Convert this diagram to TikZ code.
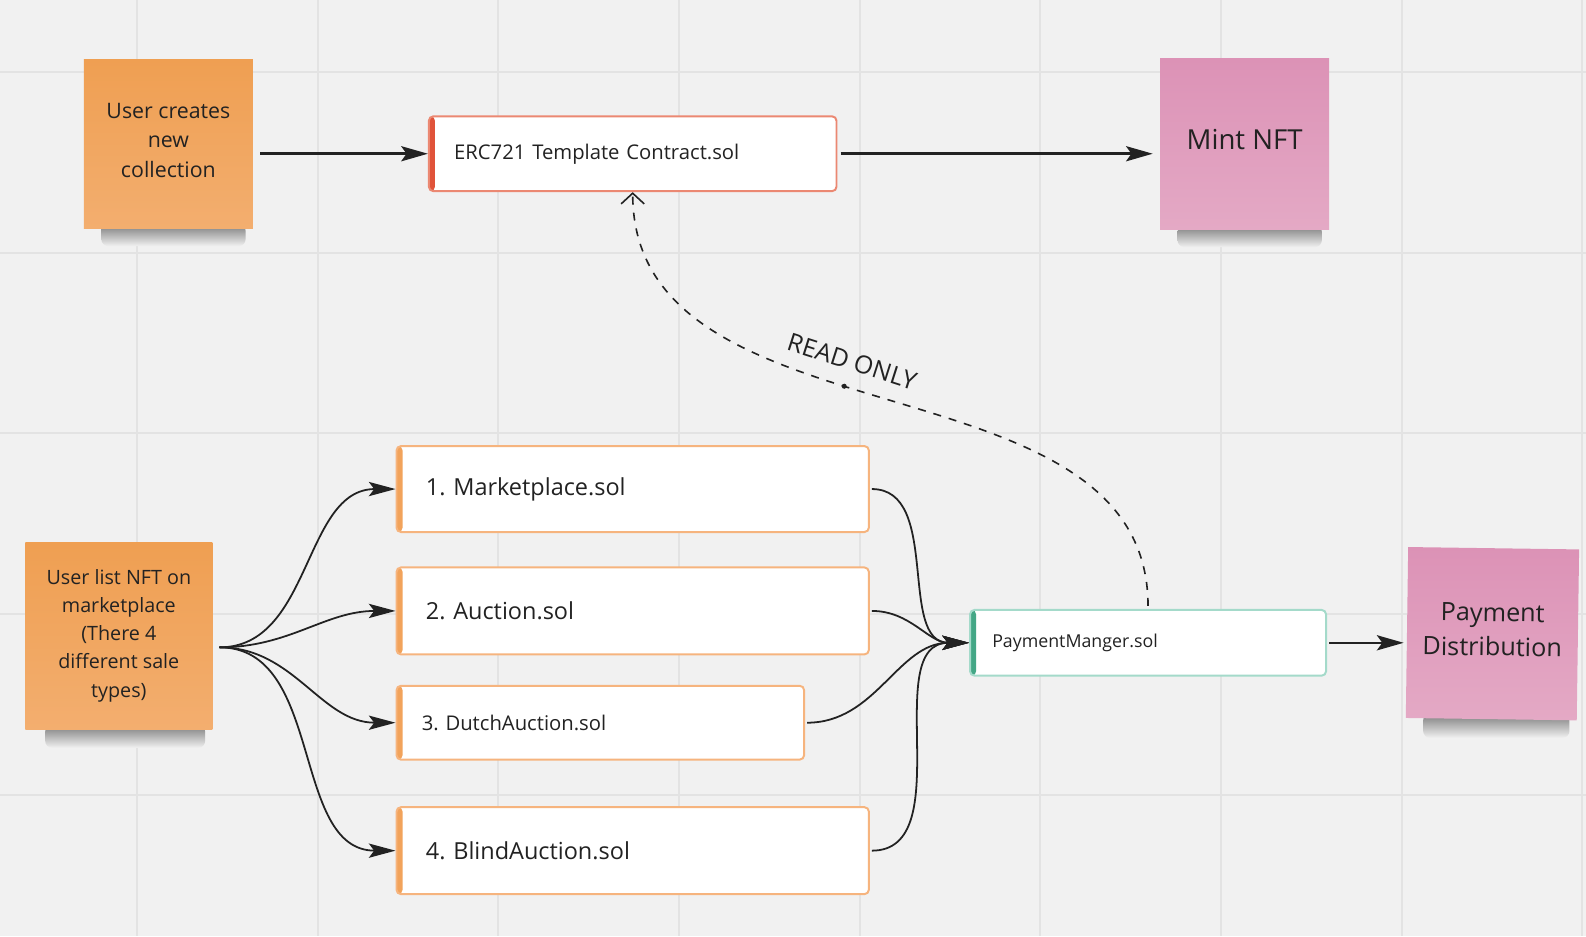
\documentclass[tikz,border=0pt]{standalone}
\usepackage{fontspec}
\setmainfont{Open Sans}
\usetikzlibrary{arrows.meta}
\pgfdeclarelayer{paper}
\pgfdeclarelayer{links}
\pgfsetlayers{paper,links,main}

\definecolor{canvasgray}{HTML}{F1F1F1}
\definecolor{gridgray}{HTML}{E3E3E3}
\definecolor{shadowgray}{HTML}{7A7A7A}
\definecolor{orangetop}{HTML}{EF9F52}
\definecolor{orangebot}{HTML}{F3AE6F}
\definecolor{pinktop}{HTML}{DC92B6}
\definecolor{pinkbot}{HTML}{E4A9C5}
\definecolor{ercline}{HTML}{EB8872}
\definecolor{ercbar}{HTML}{E0533A}
\definecolor{saleline}{HTML}{F6B47E}
\definecolor{salebar}{HTML}{F2A35B}
\definecolor{payline}{HTML}{A4DACA}
\definecolor{paybar}{HTML}{44A786}
\definecolor{ink}{HTML}{222222}

\newcommand{\setfs}[2]{\fontsize{#1}{#2}\selectfont}
\frenchspacing

\tikzset{
  sticky/.style={minimum width=3.34cm, minimum height=3.34cm, inner sep=0pt,
    top color=#1top, bottom color=#1bot, align=center, text=ink},
  stickyshadow/.style={top color=shadowgray, bottom color=canvasgray, rounded corners=4pt},
  solbox/.style 2 args={draw=#1, fill=white, line width=1.1pt, rounded corners=2.5pt,
    align=left, text=ink, inner ysep=0pt,
    path picture={\fill[#2] (path picture bounding box.north west)
      rectangle ([xshift=0.12cm]path picture bounding box.south west);}},
  flow/.style={draw=ink, line width=1.4pt, -{Stealth[length=15pt,width=8.5pt,inset=3pt]}},
  fan/.style={draw=ink, line width=1pt, -{Stealth[length=15pt,width=8pt,inset=3pt]}},
  readonly/.style={draw=ink, line width=0.9pt, dash pattern=on 4.5pt off 4.5pt,
    -{Straight Barb[length=6pt,width=13pt]}},
  anchordot/.style={circle, fill=ink, inner sep=0pt, minimum size=0.1cm},
}

\begin{document}
\begin{tikzpicture}
        \useasboundingbox (0,0) rectangle (31.36cm, -18.51cm);
        \begin{pgfonlayer}{paper}
                \fill[canvasgray] (0,0) rectangle (31.36cm, -18.51cm);
                \draw[gridgray, line width=1.1pt, shift={(2.708cm,-1.424cm)}, step=3.572cm]
                        (-2.708cm, 1.424cm) grid (28.652cm, -17.086cm);
        \end{pgfonlayer}

        % top row
        \node (uc) [sticky=orange, text depth=0.16cm, font=\setfs{12}{16.7}]
at (3.330000cm, -2.850000cm) {User creates\\new\\collection};
        \node (erc) [solbox={ercline}{ercbar}, text width=7.06cm, inner xsep=0.5cm,
minimum height=1.48cm, font=\setfs{11.4}{14}] at (12.510000cm, -3.040000cm)
{ERC721 Template Contract.sol};
        \node (mint) [sticky=pink, minimum height=3.38cm, text depth=0.18cm,
font=\setfs{15.5}{19}] at (24.610000cm, -2.850000cm) {Mint NFT};

        % sale contracts
        \node (ul) [sticky=orange, minimum width=3.70cm, minimum height=3.70cm,
font=\setfs{11.1}{15.8}] at (2.350000cm, -12.570000cm)
{User list NFT on\\marketplace\\(There 4\\different sale\\types)};
        \coordinate (fork) at (4.340000cm, -12.800000cm);
        \node (m1) [solbox={saleline}{salebar}, text width=8.18cm, inner xsep=0.58cm,
minimum height=1.70cm, font=\setfs{13.2}{16}] at (12.510000cm, -9.670000cm)
{1. Marketplace.sol};
        \node (m2) [solbox={saleline}{salebar}, text width=8.18cm, inner xsep=0.58cm,
minimum height=1.72cm, font=\setfs{13.2}{16}] at (12.510000cm, -12.080000cm)
{2. Auction.sol};
        \node (m3) [solbox={saleline}{salebar}, text width=7.06cm, inner xsep=0.5cm,
minimum height=1.46cm, font=\setfs{11.4}{14}] at (11.870000cm, -14.290000cm)
{3. DutchAuction.sol};
        \node (m4) [solbox={saleline}{salebar}, text width=8.18cm, inner xsep=0.58cm,
minimum height=1.72cm, font=\setfs{13.2}{16}] at (12.510000cm, -16.820000cm)
{4. BlindAuction.sol};
        \node (pm) [solbox={payline}{paybar}, text width=6.16cm, inner xsep=0.44cm,
minimum height=1.30cm, font=\setfs{10}{12}] at (22.700000cm, -12.710000cm)
{PaymentManger.sol};
        \node (pd) [sticky=pink, minimum width=3.38cm, minimum height=3.38cm, text depth=0.16cm,
font=\setfs{14.2}{19.3}, rotate=-0.8] at (29.510000cm, -12.530000cm)
{Payment\\Distribution};

        \begin{pgfonlayer}{links}
                \shade[stickyshadow] ([xshift=0.35cm, yshift=0.1cm]uc.south west)
                        rectangle ([xshift=-0.15cm, yshift=-0.34cm]uc.south east);
                \shade[stickyshadow] ([xshift=0.35cm, yshift=0.1cm]mint.south west)
                        rectangle ([xshift=-0.15cm, yshift=-0.34cm]mint.south east);
                \shade[stickyshadow] ([xshift=0.4cm, yshift=0.1cm]ul.south west)
                        rectangle ([xshift=-0.15cm, yshift=-0.36cm]ul.south east);
                \shade[stickyshadow] ([xshift=0.35cm, yshift=0.1cm]pd.south west)
                        rectangle ([xshift=-0.15cm, yshift=-0.34cm]pd.south east);

                \draw[flow, shorten <=0.14cm] (uc.east |- erc.west) -- (erc.west);
                \draw[flow, shorten <=0.06cm, shorten >=0.14cm] (erc.east) -- (erc.east -| mint.west);
                \draw[fan] (fork) to[out=0, in=180] (m1.west);
                \draw[fan] (fork) to[out=0, in=180] (m2.west);
                \draw[fan] (fork) to[out=0, in=180] (m3.west);
                \draw[fan] (fork) to[out=0, in=180] (m4.west);
                \draw[fan, shorten <=0.04cm] (m1.east) to[out=0, in=180] (pm.west);
                \draw[fan, shorten <=0.04cm] (m2.east) to[out=0, in=180] (pm.west);
                \draw[fan, shorten <=0.04cm] (m3.east) to[out=0, in=180] (pm.west);
                \draw[fan, shorten <=0.04cm] (m4.east) to[out=0, in=180] (pm.west);
                \draw[flow, shorten <=0.04cm, shorten >=0.06cm] (pm.east) -- (pm.east -| pd.west);
                \draw[readonly, shorten <=0.06cm] (pm.north) to[out=90, in=-90]
                        node[pos=0.56, anchordot] {}
                        node[pos=0.56, sloped, above=0.2cm, text=ink, font=\setfs{14}{16}] {READ ONLY}
                        (erc.south);
        \end{pgfonlayer}
\end{tikzpicture}
\end{document}
